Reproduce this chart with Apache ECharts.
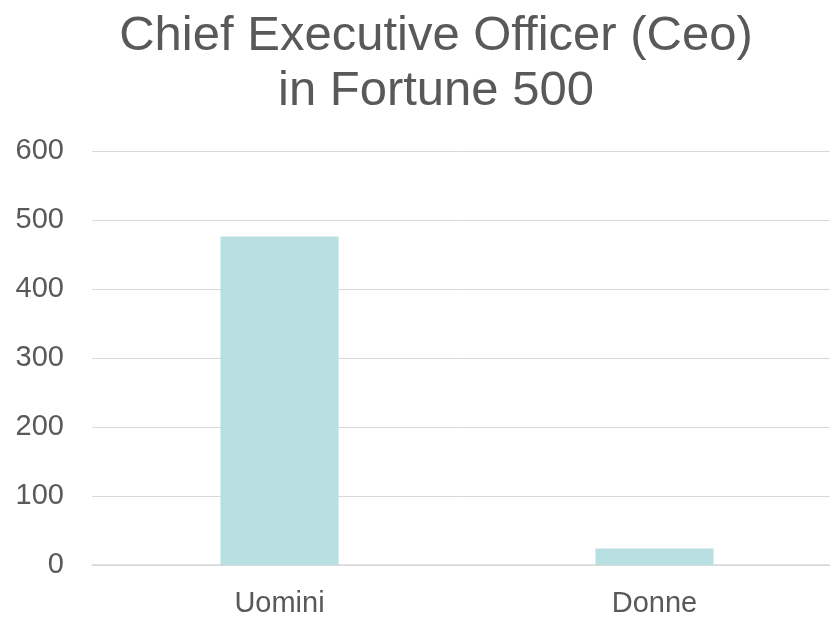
<!DOCTYPE html>
<html>
<head>
<meta charset="utf-8">
<script src="https://cdn.jsdelivr.net/npm/echarts@6/dist/echarts.min.js"></script>
<style>
  html, body { margin: 0; padding: 0; background: #fff; }
  #main { width: 830px; height: 617px; }
</style>
</head>
<body>
<div id="main"></div>
<script>
// dati
const categories = ["Uomini", "Donne"];
const ceoCount = [476, 24];
const yTicks = [0, 100, 200, 300, 400, 500, 600];

const myChart = echarts.init(document.getElementById("main"), null, { renderer: "canvas" });

const option = {
  animation: false,
  textStyle: { fontFamily: "Liberation Sans, Arial, sans-serif" },
  title: {
    text: "Chief Executive Officer (Ceo)\nin Fortune 500",
    left: 431,
    textAlign: "center",
    top: 4,
    textStyle: {
      color: "#595959",
      fontSize: 49,
      fontWeight: "normal",
      lineHeight: 55,
      fontFamily: "Liberation Sans, Arial, sans-serif",
    },
  },
  grid: {
    left: 92,
    width: 750,
    top: 151,
    bottom: 52,
    outerBoundsMode: "none",
    containLabel: false,
  },
  xAxis: {
    type: "category",
    data: categories,
    axisTick: { show: false },
    axisLine: { lineStyle: { color: "#d9d9d9", width: 1.5 } },
    axisLabel: {
      color: "#595959",
      fontSize: 29,
      margin: 24,
    },
  },
  yAxis: {
    type: "value",
    min: yTicks[0],
    max: yTicks[yTicks.length - 1],
    interval: 100,
    axisLine: { show: false },
    axisTick: { show: false },
    splitLine: { lineStyle: { color: "#d9d9d9", width: 1 } },
    axisLabel: {
      color: "#595959",
      fontSize: 29,
      margin: 28,
    },
  },
  series: [
    {
      name: "CEO",
      type: "bar",
      data: ceoCount,
      barWidth: "31.5%",
      itemStyle: { color: "#b8dfe2" },
    },
  ],
};

myChart.setOption(option);
window.addEventListener("resize", myChart.resize);
</script>
</body>
</html>
